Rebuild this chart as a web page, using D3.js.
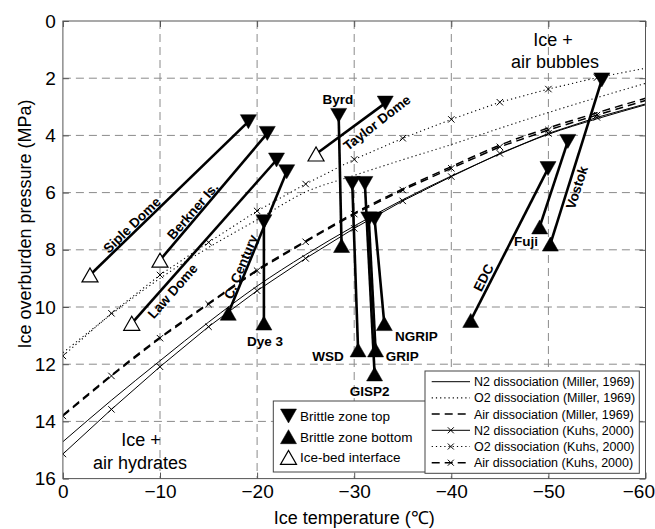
<!DOCTYPE html>
<html><head><meta charset="utf-8">
<script src="https://cdn.jsdelivr.net/npm/d3@7"></script>
<style>body{margin:0;background:#fff;} svg{display:block;}</style>
</head><body><svg id="c" width="655" height="529"></svg>
<script>
// ---------- data ----------
const temps      = [0, -5, -10, -15, -20, -25, -30, -35, -40, -45, -50, -55, -60];
const millerN2   = [14.71, 13.26, 11.88, 10.53, 9.27, 8.17, 7.17, 6.25, 5.42, 4.65, 3.96, 3.42, 2.93];
const millerO2   = [11.60, 10.25, 9.00, 7.92, 6.95, 5.98, 5.40, 4.85, 4.32, 3.75, 3.20, 2.68, 2.18];
const millerAir  = [13.78, 12.38, 11.06, 9.87, 8.70, 7.69, 6.72, 5.87, 5.09, 4.34, 3.74, 3.21, 2.70];
const kuhsN2     = [15.14, 13.58, 12.09, 10.69, 9.43, 8.30, 7.25, 6.29, 5.44, 4.63, 3.93, 3.37, 2.90];
const kuhsO2     = [11.71, 10.22, 8.88, 7.74, 6.64, 5.70, 4.84, 4.10, 3.44, 2.84, 2.38, 1.98, 1.65];
const kuhsAir    = [13.81, 12.41, 11.09, 9.90, 8.73, 7.72, 6.75, 5.91, 5.15, 4.40, 3.81, 3.29, 2.78];

const siteNames  = ["Siple Dome","Berkner Is.","Law Dome","C. Century","Dye 3","Byrd","Taylor Dome","WSD","GISP2","GRIP","NGRIP","Vostok","Fuji","EDC"];
const topT       = [-19.1, -21.05, -22.0, -23.05, -20.7, -28.4, -33.2, -29.8, -31.1, -31.5, -32.1, -55.5, -52.0, -49.96];
const topP       = [3.52, 3.93, 4.86, 5.27, 7.02, 3.30, 2.87, 5.68, 5.68, 6.92, 6.92, 2.06, 4.21, 5.16];
const endT       = [-2.79, -10.0, -7.09, -17.03, -20.7, -28.7, -26.07, -30.4, -32.1, -32.2, -33.1, -50.2, -49.1, -42.0];
const endP       = [8.88, 8.36, 10.57, 10.22, 10.56, 7.85, 4.65, 11.5, 12.34, 11.5, 10.58, 7.8, 7.2, 10.47];
const endKind    = ["bed","bed","bed","bottom","bottom","bottom","bed","bottom","bottom","bottom","bottom","bottom","bottom","bottom"];

// label anchors (data units) and rotation
const labelT     = [-7.09, -13.35, -11.29, -18.31, -20.81, -28.33, -32.32, -27.3, -31.6, -34.95, -36.4, -52.91, -47.69, -43.3];
const labelP     = [7.13, 6.64, 9.44, 8.59, 11.2, 2.73, 3.55, 11.71, 12.94, 11.71, 11.03, 5.82, 7.69, 8.97];
const labelRot   = [-44, -49, -48.5, -67.6, 0, 0, -38, 0, 0, 0, 0, -72, 0, -63];

const xTicks = [0, -10, -20, -30, -40, -50, -60];
const yTicks = [0, 2, 4, 6, 8, 10, 12, 14, 16];
const xGrid  = [-10, -20, -30, -40, -50];
const yGrid  = [2, 4, 6, 8, 10, 12, 14];

const curveLegend = ["N2 dissociation (Miller, 1969)","O2 dissociation (Miller, 1969)","Air dissociation (Miller, 1969)",
                     "N2 dissociation (Kuhs, 2000)","O2 dissociation (Kuhs, 2000)","Air dissociation (Kuhs, 2000)"];
const symbolLegend = ["Brittle zone top","Brittle zone bottom","Ice-bed interface"];

// ---------- setup ----------
const FONT = "'Liberation Sans', Arial, Helvetica, sans-serif";
const svg = d3.select("#c");
const x = d3.scaleLinear().domain([0, -60]).range([62.9, 645.5]);
const y = d3.scaleLinear().domain([0, 16]).range([21, 478.6]);

svg.append("rect").attr("width",655).attr("height",529).attr("fill","#fff");

// grid
const g = svg.append("g");
g.selectAll(".vg").data(xGrid).join("line")
  .attr("x1", d=>x(d)).attr("x2", d=>x(d)).attr("y1", y(0)).attr("y2", y(16))
  .attr("stroke","#8a8a8a").attr("stroke-width",1).attr("stroke-dasharray","8,5");
g.selectAll(".hg").data(yGrid).join("line")
  .attr("y1", d=>y(d)).attr("y2", d=>y(d)).attr("x1", x(0)).attr("x2", x(-60))
  .attr("stroke","#8a8a8a").attr("stroke-width",1).attr("stroke-dasharray","8,5");

// curves
const smooth = d3.line().x((d,i)=>x(temps[i])).y(d=>y(d)).curve(d3.curveMonotoneX);
const poly   = d3.line().x((d,i)=>x(temps[i])).y(d=>y(d));
const curves = [
  {v: millerN2, dash: null, w: 1, gen: smooth, mk: false},
  {v: millerO2, dash: "1.2,3", w: 1.1, gen: smooth, mk: false},
  {v: millerAir, dash: "8,5", w: 1.5, gen: smooth, mk: false},
  {v: kuhsN2, dash: null, w: 1, gen: poly, mk: true},
  {v: kuhsO2, dash: "1.2,3", w: 1.1, gen: poly, mk: true},
  {v: kuhsAir, dash: "8,5", w: 1.5, gen: poly, mk: true}
];
svg.append("clipPath").attr("id","pc").append("rect")
  .attr("x", x(0)).attr("y", y(0)).attr("width", x(-60)-x(0)).attr("height", y(16)-y(0));
const cg = svg.append("g").attr("clip-path","url(#pc)");
function xMark(sel, cx, cy, s){
  sel.append("path").attr("d",`M${cx-s},${cy-s}L${cx+s},${cy+s}M${cx-s},${cy+s}L${cx+s},${cy-s}`)
    .attr("stroke","#000").attr("stroke-width",1).attr("fill","none");
}
curves.forEach(c=>{
  cg.append("path").attr("d", c.gen(c.v)).attr("fill","none").attr("stroke","#000")
    .attr("stroke-width", c.w).attr("stroke-dasharray", c.dash);
  if (c.mk) c.v.forEach((p,i)=>{ if (i < temps.length-1) xMark(cg, x(temps[i]), y(p), 3.2); });
});

// site lines
const sg = svg.append("g");
siteNames.forEach((n,i)=>{
  sg.append("line").attr("x1", x(topT[i])).attr("y1", y(topP[i]))
    .attr("x2", x(endT[i])).attr("y2", y(endP[i]))
    .attr("stroke","#000").attr("stroke-width",2.6);
});
function tri(sel, cx, cy, kind){
  const w = 16, h = 14;
  let d;
  if (kind === "top") d = `M${cx-w/2},${cy-h/2}L${cx+w/2},${cy-h/2}L${cx},${cy+h/2}Z`;
  else d = `M${cx-w/2},${cy+h/2}L${cx+w/2},${cy+h/2}L${cx},${cy-h/2}Z`;
  sel.append("path").attr("d", d)
    .attr("fill", kind === "bed" ? "#fff" : "#000")
    .attr("stroke","#000").attr("stroke-width", kind === "bed" ? 1.2 : 0.5)
    .attr("stroke-linejoin","miter");
}
siteNames.forEach((n,i)=>{
  tri(sg, x(topT[i]), y(topP[i]), "top");
  tri(sg, x(endT[i]), y(endP[i]), endKind[i]);
});
siteNames.forEach((n,i)=>{
  sg.append("text").text(n)
    .attr("transform", `translate(${x(labelT[i])},${y(labelP[i])}) rotate(${labelRot[i]})`)
    .attr("text-anchor","middle").attr("dy","0.36em")
    .attr("font-family", FONT).attr("font-weight","bold").attr("font-size", 13.5).attr("fill","#000");
});

// region labels
const regions = [
  {t:-50.47, p:0.66, s:"Ice +"}, {t:-50.68, p:1.40, s:"air bubbles"},
  {t:-8.04, p:14.65, s:"Ice +"}, {t:-7.94, p:15.45, s:"air hydrates"}
];
regions.forEach(r=>{
  svg.append("text").text(r.s).attr("x", x(r.t)).attr("y", y(r.p)).attr("dy","0.36em")
    .attr("text-anchor","middle").attr("font-family", FONT).attr("font-size", 18).attr("fill","#000");
});

// axes box
const ax = svg.append("g");
ax.append("rect").attr("x", x(0)).attr("y", y(0)).attr("width", x(-60)-x(0)).attr("height", y(16)-y(0))
  .attr("fill","none").attr("stroke","#555").attr("stroke-width",1);
const xa = svg.append("g").attr("transform",`translate(0,${y(16)})`)
  .call(d3.axisBottom(x).tickValues(xTicks).tickSize(-6).tickPadding(6).tickFormat(d3.format("d")));
const xt = svg.append("g").attr("transform",`translate(0,${y(0)})`)
  .call(d3.axisTop(x).tickValues(xTicks).tickSize(-6).tickFormat(""));
const ya = svg.append("g").attr("transform",`translate(${x(0)},0)`)
  .call(d3.axisLeft(y).tickValues(yTicks).tickSize(-6).tickPadding(7));
const yr = svg.append("g").attr("transform",`translate(${x(-60)},0)`)
  .call(d3.axisRight(y).tickValues(yTicks).tickSize(-6).tickFormat(""));
[xa, xt, ya, yr].forEach(a=>{
  a.select(".domain").remove();
  a.selectAll(".tick line").attr("stroke","#555");
  a.selectAll("text").attr("font-family", FONT).attr("font-size", 19).attr("fill","#000");
});
// keep the last x tick label inside the picture
xa.selectAll(".tick text").filter(d=>d === -60).attr("text-anchor","end").attr("dx", 9);

svg.append("text").text("Ice temperature (℃)").attr("x", (x(0)+x(-60))/2).attr("y", 524)
  .attr("text-anchor","middle").attr("font-family", FONT).attr("font-size", 18);
svg.append("text").text("Ice overburden pressure (MPa)")
  .attr("transform","translate(31,224) rotate(-90)")
  .attr("text-anchor","middle").attr("font-family", FONT).attr("font-size", 18);

// symbol legend
const l2 = svg.append("g");
l2.append("rect").attr("x",273.3).attr("y",401).attr("width",160).attr("height",71)
  .attr("fill","#fff").attr("stroke","#444").attr("stroke-width",1);
const kinds = ["top","bottom","bed"];
symbolLegend.forEach((s,i)=>{
  const yy = 416 + i*20.7;
  tri(l2, 288.5, yy, kinds[i]);
  l2.append("text").text(s).attr("x",300).attr("y",yy).attr("dy","0.36em")
    .attr("font-family", FONT).attr("font-size", 13.5);
});

// curve legend
const l1 = svg.append("g");
l1.append("rect").attr("x",425).attr("y",371).attr("width",214.3).attr("height",102.3)
  .attr("fill","#fff").attr("stroke","#444").attr("stroke-width",1);
curveLegend.forEach((s,i)=>{
  const yy = 381.7 + i*16.2;
  const c = curves[i];
  l1.append("line").attr("x1",431.7).attr("x2",470).attr("y1",yy).attr("y2",yy)
    .attr("stroke","#000").attr("stroke-width", c.w).attr("stroke-dasharray", c.dash);
  if (c.mk) xMark(l1, 450.8, yy, 3);
  l1.append("text").text(s).attr("x",474).attr("y",yy).attr("dy","0.36em")
    .attr("font-family", FONT).attr("font-size", 12.5);
});
</script></body></html>
